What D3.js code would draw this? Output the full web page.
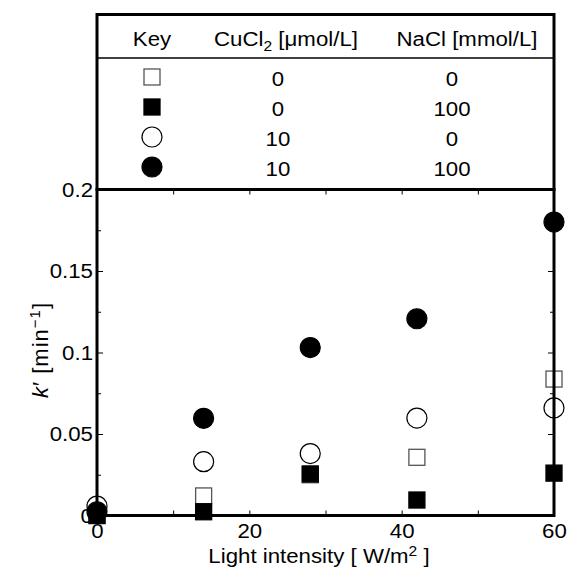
<!DOCTYPE html>
<html>
<head>
<meta charset="UTF-8">
<title>k' vs light intensity</title>
<script src="https://cdn.jsdelivr.net/npm/d3@7"></script>
<style>
    body { margin: 0; background: #fff; }
    text { font-family: "Liberation Sans", Arial, sans-serif; fill: #000; }
</style>
</head>
<body>
<div class="holder"></div>
<script>
    // values
    var lightIntensity = [0, 14, 28, 42, 60];
    var kPlain   = [0, 0.012, 0.025, 0.0357, 0.0837];     // open square
    var kNaCl    = [0, 0.0023, 0.0255, 0.0095, 0.026];    // filled square
    var kCu      = [0.0058, 0.033, 0.038, 0.0598, 0.066]; // open circle
    var kCuNaCl  = [0.0023, 0.0596, 0.103, 0.1207, 0.18]; // filled circle

    var keyCuCl2 = ["0", "0", "10", "10"];
    var keyNaCl  = ["0", "100", "0", "100"];

    var xTicks = [0, 10, 20, 30, 40, 50, 60];
    var yTicks = [0, 0.05, 0.1, 0.15, 0.2];
    var yMinorTicks = [0.025, 0.075, 0.125, 0.175];

    var series = [
        {shape: "square", filled: false, values: kPlain},
        {shape: "square", filled: true,  values: kNaCl},
        {shape: "circle", filled: false, values: kCu},
        {shape: "circle", filled: true,  values: kCuNaCl}
    ];

    var fs = 21, sx = 1.06;   // text is a bit wide in the original

    var svg = d3.select(".holder").append("svg")
            .attr("width", 569)
            .attr("height", 572);

    var x = d3.scaleLinear().domain([0, 60]).range([97, 554]);
    var y = d3.scaleLinear().domain([0, 0.2]).range([515.5, 189.5]);

    function stretchLabels(g) {
        g.selectAll(".tick text").each(function () {
            var t = d3.select(this);
            var tx = +t.attr("x") || 0, ty = +t.attr("y") || 0;
            t.attr("x", 0).attr("y", 0)
             .attr("transform", "translate(" + tx + "," + ty + ") scale(" + sx + ",1)");
        });
    }

    function styleAxis(g) {
        g.select(".domain").remove();
        g.selectAll(".tick line").attr("stroke", "#000").attr("stroke-width", 1);
        g.selectAll(".tick text").attr("font-size", fs).attr("font-family", null);
    }

    function symbol(g, shape, filled, cx, cy) {
        if (shape === "square") {
            g.append("rect")
                .attr("x", cx - 8).attr("y", cy - 8)
                .attr("width", 16).attr("height", 16)
                .attr("fill", filled ? "#000" : "#fff")
                .attr("stroke", filled ? "#000" : "#555")
                .attr("stroke-width", 1.3);
        } else {
            g.append("circle")
                .attr("cx", cx).attr("cy", cy).attr("r", 10)
                .attr("fill", filled ? "#000" : "#fff")
                .attr("stroke", "#000")
                .attr("stroke-width", 1.2);
        }
    }

    // axes (ticks point inward)
    var gLeft = svg.append("g").attr("transform", "translate(97,0)")
            .call(d3.axisLeft(y).tickValues(yTicks).tickSizeInner(-6).tickSizeOuter(0)
                    .tickPadding(4).tickFormat(function (d) { return String(d); }));
    styleAxis(gLeft); stretchLabels(gLeft);

    var gLeftMinor = svg.append("g").attr("transform", "translate(97,0)")
            .call(d3.axisLeft(y).tickValues(yMinorTicks).tickSizeInner(-4).tickSizeOuter(0).tickFormat(""));
    styleAxis(gLeftMinor);

    var gRight = svg.append("g").attr("transform", "translate(554,0)")
            .call(d3.axisRight(y).tickValues(yTicks).tickSizeInner(-6).tickSizeOuter(0).tickFormat(""));
    styleAxis(gRight);

    var gRightMinor = svg.append("g").attr("transform", "translate(554,0)")
            .call(d3.axisRight(y).tickValues(yMinorTicks).tickSizeInner(-4).tickSizeOuter(0).tickFormat(""));
    styleAxis(gRightMinor);

    var gBottom = svg.append("g").attr("transform", "translate(0,515.5)")
            .call(d3.axisBottom(x).tickValues(xTicks).tickSizeInner(-5).tickSizeOuter(0)
                    .tickPadding(8).tickFormat(function (d) { return d % 20 === 0 ? d : ""; }));
    styleAxis(gBottom); stretchLabels(gBottom);

    var gTop = svg.append("g").attr("transform", "translate(0,189.5)")
            .call(d3.axisTop(x).tickValues(xTicks).tickSizeInner(-5).tickSizeOuter(0).tickFormat(""));
    styleAxis(gTop);

    // data points
    var gPts = svg.append("g");
    series.forEach(function (s) {
        s.values.forEach(function (v, i) {
            symbol(gPts, s.shape, s.filled, x(lightIntensity[i]), y(v));
        });
    });

    // frames
    svg.append("rect")
            .attr("x", x(0)).attr("y", y(0.2))
            .attr("width", x(60) - x(0)).attr("height", y(0) - y(0.2))
            .attr("fill", "none").attr("stroke", "#000").attr("stroke-width", 3);

    svg.append("rect")
            .attr("x", x(0)).attr("y", 14.5)
            .attr("width", x(60) - x(0)).attr("height", y(0.2) - 14.5)
            .attr("fill", "none").attr("stroke", "#000").attr("stroke-width", 3);

    svg.append("line")
            .attr("x1", x(0)).attr("x2", x(60))
            .attr("y1", 58).attr("y2", 58)
            .attr("stroke", "#000").attr("stroke-width", 1.5);

    function label(px, py) {
        return svg.append("g")
                .attr("transform", "translate(" + px + "," + py + ") scale(" + sx + ",1)")
                .append("text")
                .attr("text-anchor", "middle")
                .attr("font-size", fs);
    }

    // key table
    label(152, 46).text("Key");
    var cu = label(286, 46);
    cu.append("tspan").text("CuCl");
    cu.append("tspan").attr("font-size", fs * 0.7).attr("dy", 5).text("2");
    cu.append("tspan").attr("dy", -5).text(" [\u03bcmol/L]");
    label(467, 46).text("NaCl [mmol/L]");

    var row = d3.scalePoint().domain(d3.range(series.length)).range([79, 169]);
    series.forEach(function (s, i) {
        symbol(svg, s.shape, s.filled, 152, row(i) - 2);
        label(278, row(i) + 7).text(keyCuCl2[i]);
        label(452, row(i) + 7).text(keyNaCl[i]);
    });

    // axis titles
    var xl = label(319, 563);
    xl.append("tspan").text("Light intensity [ W/m");
    xl.append("tspan").attr("font-size", fs * 0.7).attr("dy", -7).text("2");
    xl.append("tspan").attr("dy", 7).text(" ]");

    var yl = svg.append("g")
            .attr("transform", "translate(48,350) rotate(-90)")
            .append("text")
            .attr("text-anchor", "middle")
            .attr("font-size", 22)
            .attr("letter-spacing", 1);
    yl.append("tspan").attr("font-style", "italic").text("k");
    yl.append("tspan").text("\u2032 [min");
    yl.append("tspan").attr("font-size", 15).attr("dy", -8).text("\u22121");
    yl.append("tspan").attr("dy", 8).text("]");
</script>
</body>
</html>
